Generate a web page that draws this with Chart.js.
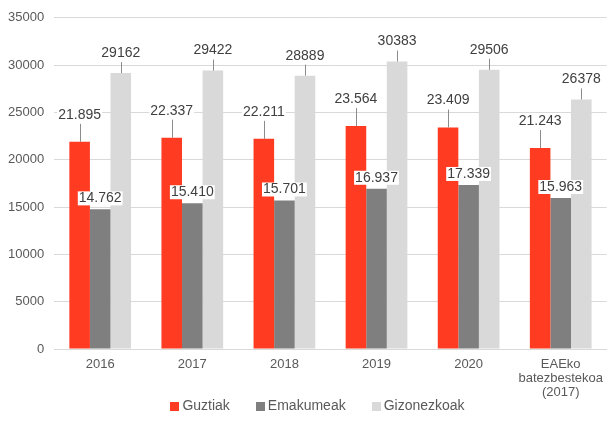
<!DOCTYPE html>
<html>
<head>
<meta charset="utf-8">
<script src="https://cdn.jsdelivr.net/npm/chart.js@4"></script>
<style>
  html, body { margin: 0; padding: 0; background: #fff; }
  #wrap { width: 611px; height: 425px; }
</style>
</head>
<body>
<div id="wrap"><canvas id="myChart" width="611" height="425"></canvas></div>
<script>
const categories = ['2016', '2017', '2018', '2019', '2020', ['EAEko', 'batezbestekoa', '(2017)']]
const guztiak = [21895, 22337, 22211, 23564, 23409, 21243]
const emakumeak = [14762, 15410, 15701, 16937, 17339, 15963]
const gizonezkoak = [29162, 29422, 28889, 30383, 29506, 26378]

const FONT = '"Liberation Sans", Arial, sans-serif'

// how far above the bar top the label sits, and whether a leader line is drawn
const labelStyle = [
    { lift: 27, line: true, dots: true },
    { lift: 11, line: false, dots: true },
    { lift: 20, line: true, dots: false },
]

function fmt(v, dots) {
    let s = String(v)
    return dots ? s.replace(/\B(?=(\d{3})+(?!\d))/g, '.') : s
}

const barLabels = {
    id: 'barLabels',
    afterDatasetsDraw(chart) {
        const ctx = chart.ctx
        ctx.save()
        ctx.font = '14px ' + FONT
        ctx.textAlign = 'center'
        ctx.textBaseline = 'middle'
        chart.data.datasets.forEach((ds, i) => {
            let st = labelStyle[i]
            chart.getDatasetMeta(i).data.forEach((bar, j) => {
                let txt = fmt(ds.data[j], st.dots)
                let ty = bar.y - st.lift
                if (st.line) {
                    ctx.strokeStyle = '#8c8c8c'
                    ctx.lineWidth = 1
                    ctx.beginPath()
                    ctx.moveTo(Math.round(bar.x) + 0.5, ty + 9)
                    ctx.lineTo(Math.round(bar.x) + 0.5, bar.y)
                    ctx.stroke()
                }
                let w = ctx.measureText(txt).width
                ctx.fillStyle = '#fff'
                ctx.fillRect(bar.x - w / 2 - 1, ty - 7, w + 2, 14)
                ctx.fillStyle = '#404040'
                ctx.fillText(txt, bar.x, ty)
            })
        })
        ctx.restore()
    }
}

// legend drawn by hand so the item spacing can differ from the row height
const bottomLegend = {
    id: 'bottomLegend',
    afterDraw(chart) {
        const ctx = chart.ctx
        const box = 9, gap = 3, spacing = 26
        ctx.save()
        ctx.font = '14px ' + FONT
        ctx.textBaseline = 'middle'
        let items = chart.data.datasets.map(ds => ({ text: ds.label, color: ds.backgroundColor, w: ctx.measureText(ds.label).width }))
        let total = items.reduce((s, it) => s + box + gap + it.w, 0) + spacing * (items.length - 1)
        let x = chart.width / 2 + 12 - total / 2
        let y = chart.height - 19
        for (let it of items) {
            ctx.fillStyle = it.color
            ctx.fillRect(Math.round(x), Math.round(y - 4.5), box, box)
            ctx.fillStyle = '#595959'
            ctx.fillText(it.text, x + box + gap, y)
            x += box + gap + it.w + spacing
        }
        ctx.restore()
    }
}

const ctx = document.getElementById('myChart').getContext('2d')
const myChart = new Chart(ctx, {
    type: 'bar',
    data: {
        labels: categories,
        datasets: [
            { label: 'Guztiak', data: guztiak, backgroundColor: '#ff3b22' },
            { label: 'Emakumeak', data: emakumeak, backgroundColor: '#7f7f7f' },
            { label: 'Gizonezkoak', data: gizonezkoak, backgroundColor: '#d9d9d9' },
        ]
    },
    options: {
        responsive: false,
        animation: false,
        layout: { padding: { left: -2, right: 0, top: 16, bottom: 17 } },
        datasets: {
            bar: { categoryPercentage: 0.67, barPercentage: 1.0 }
        },
        scales: {
            x: {
                grid: { display: false, drawTicks: false },
                border: { color: '#d9d9d9' },
                ticks: {
                    color: '#595959',
                    font: { family: FONT, size: 13, lineHeight: 1.1 },
                    maxRotation: 0,
                    autoSkip: false,
                    padding: 8
                }
            },
            y: {
                min: 0,
                max: 35000,
                grid: { color: '#d9d9d9', drawTicks: false },
                border: { display: false },
                ticks: {
                    stepSize: 5000,
                    color: '#595959',
                    padding: 10,
                    callback: (v) => String(v),
                    font: { family: FONT, size: 13 }
                }
            }
        },
        plugins: {
            legend: { display: false },
            tooltip: { enabled: false }
        }
    },
    plugins: [barLabels, bottomLegend]
})
</script>
</body>
</html>
